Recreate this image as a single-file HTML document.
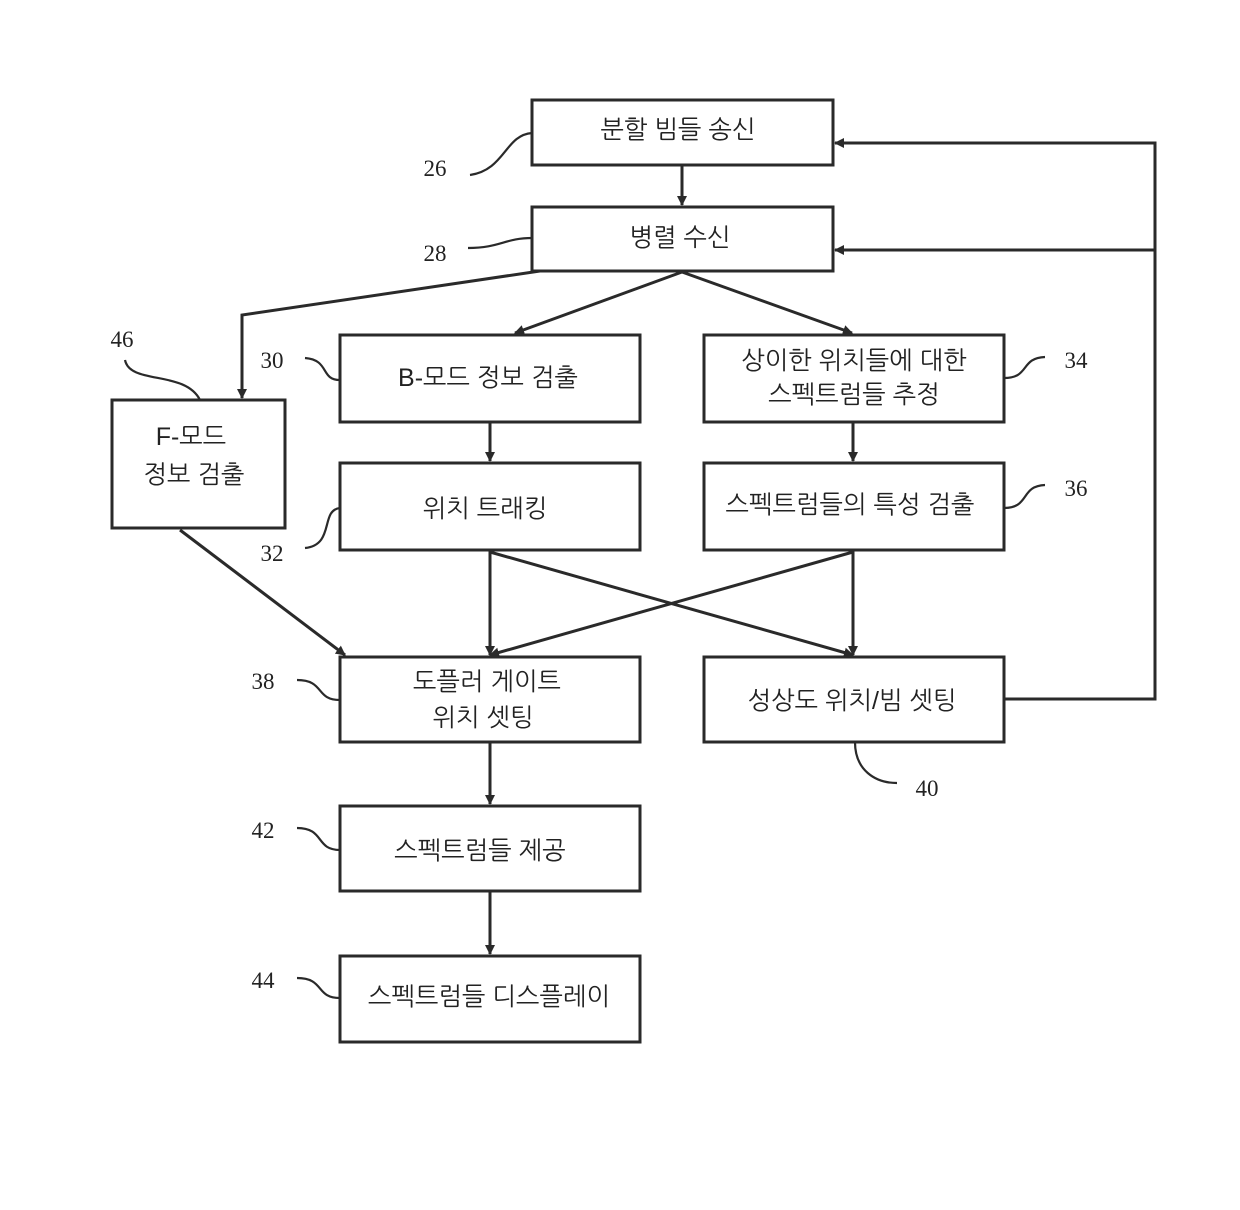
<!DOCTYPE html>
<html><head><meta charset="utf-8"><style>
html,body{margin:0;padding:0;background:#fff;}
svg{display:block;}
.b{fill:#fff;stroke:#2a2a2a;stroke-width:3;}
.l{fill:none;stroke:#2a2a2a;stroke-width:3;}
.c{fill:none;stroke:#2a2a2a;stroke-width:2.2;}
.t{font-family:"Liberation Sans","NanumGothic","Noto Sans CJK KR",sans-serif;font-size:25px;fill:#222;text-anchor:middle;}
.n{font-family:"Liberation Serif",serif;font-size:23px;fill:#222;text-anchor:middle;}
</style></head><body>
<svg width="1240" height="1210" viewBox="0 0 1240 1210" xmlns="http://www.w3.org/2000/svg">
<defs><marker id="a" markerWidth="10" markerHeight="10" refX="9" refY="5" orient="auto" markerUnits="userSpaceOnUse"><path d="M0,0 L10,5 L0,10 Z" fill="#2a2a2a"/></marker></defs>
<rect class="b" x="532" y="100" width="301" height="65"/>
<rect class="b" x="532" y="207" width="301" height="64"/>
<rect class="b" x="340" y="335" width="300" height="87"/>
<rect class="b" x="704" y="335" width="300" height="87"/>
<rect class="b" x="112" y="400" width="173" height="128"/>
<rect class="b" x="340" y="463" width="300" height="87"/>
<rect class="b" x="704" y="463" width="300" height="87"/>
<rect class="b" x="340" y="657" width="300" height="85"/>
<rect class="b" x="704" y="657" width="300" height="85"/>
<rect class="b" x="340" y="806" width="300" height="85"/>
<rect class="b" x="340" y="956" width="300" height="86"/>

<path class="l" d="M682,165 L682,205" marker-end="url(#a)"/>
<path class="l" d="M682,272 L515,333" marker-end="url(#a)"/>
<path class="l" d="M682,272 L852,333" marker-end="url(#a)"/>
<path class="l" d="M540,271 L242,315 L242,398" marker-end="url(#a)"/>
<path class="l" d="M490,422 L490,461" marker-end="url(#a)"/>
<path class="l" d="M853,422 L853,461" marker-end="url(#a)"/>
<path class="l" d="M490,550 L490,655" marker-end="url(#a)"/>
<path class="l" d="M490,552 L853,655" marker-end="url(#a)"/>
<path class="l" d="M853,550 L853,655" marker-end="url(#a)"/>
<path class="l" d="M853,552 L490,655" marker-end="url(#a)"/>
<path class="l" d="M180,530 L345,655" marker-end="url(#a)"/>
<path class="l" d="M490,742 L490,804" marker-end="url(#a)"/>
<path class="l" d="M490,891 L490,954" marker-end="url(#a)"/>
<path class="l" d="M1004,699 L1155,699 L1155,143 L835,143" marker-end="url(#a)"/>
<path class="l" d="M1155,250 L835,250" marker-end="url(#a)"/>

<path class="c" d="M470,175 C505,170 505,135 532,133"/>
<path class="c" d="M468,248 C500,248 505,238 532,238"/>
<path class="c" d="M125,360 C130,385 185,370 200,400"/>
<path class="c" d="M305,358 C330,360 320,380 340,380"/>
<path class="c" d="M305,548 C335,545 320,510 340,508"/>
<path class="c" d="M1004,378 C1030,378 1020,358 1045,357"/>
<path class="c" d="M1004,508 C1030,508 1020,486 1045,485"/>
<path class="c" d="M297,680 C325,680 315,700 340,700"/>
<path class="c" d="M855,742 C855,770 875,783 897,783"/>
<path class="c" d="M297,828 C325,828 315,850 340,850"/>
<path class="c" d="M297,978 C325,978 315,998 340,998"/>

<text class="n" x="435" y="176">26</text>
<text class="n" x="435" y="261">28</text>
<text class="n" x="122" y="347">46</text>
<text class="n" x="272" y="368">30</text>
<text class="n" x="272" y="561">32</text>
<text class="n" x="1076" y="368">34</text>
<text class="n" x="1076" y="496">36</text>
<text class="n" x="263" y="689">38</text>
<text class="n" x="927" y="796">40</text>
<text class="n" x="263" y="838">42</text>
<text class="n" x="263" y="988">44</text>

<text class="t" x="678" y="138">분할 빔들 송신</text>
<text class="t" x="680" y="246">병렬 수신</text>
<text class="t" x="488" y="386">B-모드 정보 검출</text>
<text class="t" x="854" y="369">상이한 위치들에 대한</text>
<text class="t" x="854" y="403">스펙트럼들 추정</text>
<text class="t" x="191" y="445">F-모드</text>
<text class="t" x="194" y="483">정보 검출</text>
<text class="t" x="485" y="517">위치 트래킹</text>
<text class="t" x="850" y="513">스펙트럼들의 특성 검출</text>
<text class="t" x="487" y="690">도플러 게이트</text>
<text class="t" x="483" y="726">위치 셋팅</text>
<text class="t" x="852" y="709">성상도 위치/빔 셋팅</text>
<text class="t" x="480" y="859">스펙트럼들 제공</text>
<text class="t" x="489" y="1005">스펙트럼들 디스플레이</text>
</svg>
</body></html>
